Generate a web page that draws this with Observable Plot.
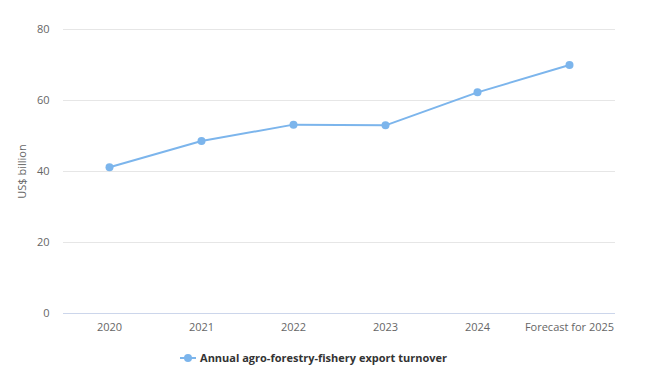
<!DOCTYPE html>
<html>
<head>
<meta charset="utf-8">
<script src="https://cdn.jsdelivr.net/npm/d3@7"></script>
<script src="https://cdn.jsdelivr.net/npm/@observablehq/plot@0.6"></script>
<style>
  html, body { margin: 0; padding: 0; background: #fff; }
  body { width: 655px; height: 384px; overflow: hidden; font-family: "Open Sans", "DejaVu Sans", sans-serif; }
  #legend { display: flex; justify-content: center; align-items: center; margin-top: 5px; padding-right: 28px; font-size: 11px; font-weight: bold; color: #333; }
  #legend svg { margin-right: 4px; }
</style>
</head>
<body>
<div id="chart"></div>
<div id="legend"></div>
<script>
const categories = ["2020", "2021", "2022", "2023", "2024", "Forecast for 2025"];
const values = [41.2, 48.6, 53.2, 53.0, 62.3, 70.0];
const yTicks = [0, 20, 40, 60, 80];
const seriesName = "Annual agro-forestry-fishery export turnover";
const yLabel = "US$ billion";
const color = "#7cb5ec";

const data = categories.map((c, i) => ({ category: c, value: values[i] }));

const chart = Plot.plot({
  width: 655,
  height: 345,
  marginTop: 29,
  marginBottom: 32,
  marginLeft: 63,
  marginRight: 40,
  style: { fontFamily: "'Open Sans', 'DejaVu Sans', sans-serif", fontSize: "11px", color: "#666" },
  x: { type: "point", domain: categories, padding: 0.5 },
  y: { domain: [0, 80] },
  marks: [
    Plot.gridY(yTicks, { stroke: "#e6e6e6", strokeOpacity: 1 }),
    Plot.ruleY([0], { stroke: "#ccd6eb" }),
    Plot.axisY(yTicks, { tickSize: 0, tickPadding: 14, label: yLabel, labelAnchor: "center", labelArrow: "none", labelOffset: 45, fill: "#666" }),
    Plot.axisX({ tickSize: 0, tickPadding: 10, label: null, fill: "#666" }),
    Plot.line(data, { x: "category", y: "value", stroke: color, strokeWidth: 2 }),
    Plot.dot(data, { x: "category", y: "value", fill: color, r: 4 })
  ]
});
document.getElementById("chart").appendChild(chart);

const legend = document.getElementById("legend");
legend.innerHTML = `<svg width="16" height="12"><line x1="0" y1="6" x2="16" y2="6" stroke="${color}" stroke-width="2"/><circle cx="8" cy="6" r="4" fill="${color}"/></svg><span>${seriesName}</span>`;
</script>
</body>
</html>
